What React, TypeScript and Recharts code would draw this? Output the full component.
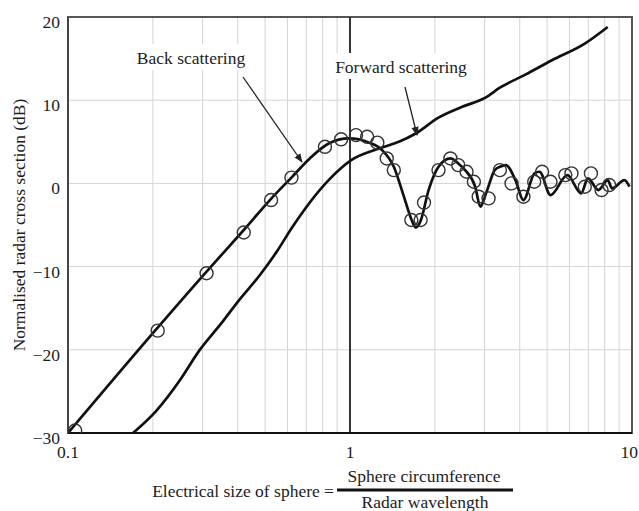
import React from "react";
import {
  ComposedChart,
  Line,
  Scatter,
  XAxis,
  YAxis,
  CartesianGrid,
  ReferenceLine,
  ReferenceArea,
} from "recharts";

// back scattering curve (electrical size, dB)
const backX = [0.1, 0.2, 0.31, 0.42, 0.52, 0.62, 0.72, 0.84, 0.99, 1.17, 1.3, 1.43, 1.55, 1.65, 1.71, 1.78, 1.9, 2.06, 2.27, 2.42, 2.56, 2.78, 2.9, 3.05, 3.26, 3.4, 3.57, 3.86, 4.12, 4.51, 4.7, 5.14, 5.9, 6.6, 6.98, 7.6, 8.2, 8.5, 9.4, 9.8];
const backY = [-30, -18, -10.6, -5.6, -2, 0.7, 3.0, 4.8, 5.4, 4.9, 4.0, 2.0, -1.5, -4.3, -5.3, -4.5, -0.8, 2.0, 3.0, 2.4, 1.6, -0.4, -2.8, -1.0, 1.6, 2.0, 2.2, 0.4, -2.0, 1.2, 1.4, -1.4, 1.0, -1.2, 0.6, -0.8, 0.4, -0.6, 0.4, -0.4];

// forward scattering curve
const fwdX = [0.17, 0.206, 0.25, 0.292, 0.35, 0.405, 0.477, 0.55, 0.623, 0.84, 1.01, 1.27, 1.49, 1.71, 2.06, 2.5, 3.02, 3.4, 4.2, 5.2, 6.8, 8.2];
const fwdY = [-30, -27.3, -23.6, -20.1, -16.8, -14.0, -11.1, -8.2, -5.3, 0.4, 2.8, 4.2, 5.0, 6.0, 7.9, 9.2, 10.3, 11.5, 13.1, 14.8, 16.8, 18.8];

// exact solution markers
const markX = [0.106, 0.208, 0.31, 0.42, 0.525, 0.62, 0.815, 0.93, 1.05, 1.15, 1.25, 1.35, 1.43, 1.65, 1.78, 1.83, 2.06, 2.27, 2.42, 2.59, 2.75, 2.86, 3.1, 3.4, 3.74, 4.12, 4.5, 4.8, 5.14, 5.8, 6.1, 6.8, 7.15, 7.8, 8.3];
const markY = [-29.7, -17.7, -10.8, -5.9, -2.0, 0.7, 4.4, 5.3, 5.8, 5.6, 4.9, 3.0, 1.6, -4.4, -4.4, -2.3, 1.6, 3.0, 2.2, 1.4, 0.2, -1.6, -1.8, 1.6, 0, -1.6, 0.2, 1.4, 0.2, 1.0, 1.2, -0.4, 1.2, -0.8, -0.2];

const xTicks = [0.1, 0.2, 0.3, 0.4, 0.5, 0.6, 0.7, 0.8, 0.9, 1, 2, 3, 4, 5, 6, 7, 8, 9, 10];
const xLabels = [0.1, 1, 10];
const yTicks = [-30, -20, -10, 0, 10, 20];

const backData = backX.map((x, i) => ({ x, y: backY[i] }));
const fwdData = fwdX.map((x, i) => ({ x, y: fwdY[i] }));
const markData = markX.map((x, i) => ({ x, y: markY[i] }));

const FONT = "'Liberation Serif', 'Times New Roman', serif";
const INK = "#1c1c1c";

const XTick = (props: any) => {
  const v = props.payload.value;
  if (!xLabels.includes(v)) return null;
  // last label sits against the window edge, keep it inside
  const last = v === 10;
  return (
    <text x={last ? props.x + 6 : props.x} y={props.y} dy={17} textAnchor={last ? "end" : "middle"} fontFamily={FONT} fontSize={17.5} fill={INK}>
      {String(v)}
    </text>
  );
};

const YTick = (props: any) => {
  const v = props.payload.value;
  return (
    <text x={props.x} y={props.y} dy={11} textAnchor="end" fontFamily={FONT} fontSize={17.5} fill={INK}>
      {v < 0 ? "\u2212" + Math.abs(v) : String(v)}
    </text>
  );
};

const Ring = (props: any) => (
  <circle cx={props.cx} cy={props.cy} r={6.5} fill="none" stroke="#333" strokeWidth={1.4} />
);

export default function App() {
  return (
    <div style={{ position: "absolute", left: 0, top: 0, width: 639, height: 511, background: "#fff" }}>
      <ComposedChart width={639} height={511} margin={{ top: 17, right: 7, bottom: 0, left: 0 }}>
        <CartesianGrid stroke="#d4d4d4" strokeWidth={1} />
        <XAxis
          dataKey="x"
          type="number"
          scale="log"
          domain={[0.1, 10]}
          ticks={xTicks}
          interval={0}
          allowDataOverflow
          height={78}
          tickLine={false}
          axisLine={{ stroke: "#111", strokeWidth: 2 }}
          tick={<XTick />}
        />
        <YAxis
          dataKey="y"
          type="number"
          domain={[-30, 20]}
          ticks={yTicks}
          interval={0}
          allowDataOverflow
          width={68}
          tickLine={false}
          axisLine={{ stroke: "#444", strokeWidth: 2 }}
          tick={<YTick />}
        />
        <ReferenceArea x1={0.1} x2={10} y1={-30} y2={20} fill="none" stroke="#555" strokeWidth={2} ifOverflow="visible" />
        <ReferenceLine x={1} stroke="#333" strokeWidth={2} />
        <Line data={fwdData} dataKey="y" type="monotone" stroke="#111" strokeWidth={2.7} dot={false} isAnimationActive={false} />
        <Line data={backData} dataKey="y" type="monotone" stroke="#111" strokeWidth={2.7} dot={false} isAnimationActive={false} />
        <Scatter data={markData} dataKey="y" shape={<Ring />} isAnimationActive={false} />
      </ComposedChart>
      <svg width={639} height={511} style={{ position: "absolute", left: 0, top: 0, pointerEvents: "none" }}>
        <defs>
          <marker id="arr" viewBox="0 0 10 10" refX="9" refY="5" markerWidth="7" markerHeight="7" orient="auto">
            <path d="M0,1 L10,5 L0,9 z" fill="#222" />
          </marker>
        </defs>
        <rect x={132} y={44} width={118} height={26} fill="#fff" />
        <text x={191} y={64} textAnchor="middle" fontFamily={FONT} fontSize={17.5} fill={INK}>Back scattering</text>
        <line x1={243} y1={77} x2={302} y2={162} stroke="#222" strokeWidth={1.3} markerEnd="url(#arr)" />
        <rect x={330} y={53} width={142} height={26} fill="#fff" />
        <text x={401} y={73} textAnchor="middle" fontFamily={FONT} fontSize={17.5} fill={INK}>Forward scattering</text>
        <line x1={405} y1={87} x2={417} y2={135} stroke="#222" strokeWidth={1.3} markerEnd="url(#arr)" />
        <text transform="translate(19,225) rotate(-90)" textAnchor="middle" dominantBaseline="central" fontFamily={FONT} fontSize={17.5} fill={INK}>
          Normalised radar cross section (dB)
        </text>
        <text x={334} y={497} textAnchor="end" fontFamily={FONT} fontSize={17.5} fill={INK}>Electrical size of sphere =</text>
        <text x={424} y={482} textAnchor="middle" fontFamily={FONT} fontSize={17.5} fill={INK}>Sphere circumference</text>
        <rect x={337} y={488.5} width={176} height={3} fill="#111" />
        <text x={425} y={508} textAnchor="middle" fontFamily={FONT} fontSize={17.5} fill={INK}>Radar wavelength</text>
      </svg>
    </div>
  );
}
